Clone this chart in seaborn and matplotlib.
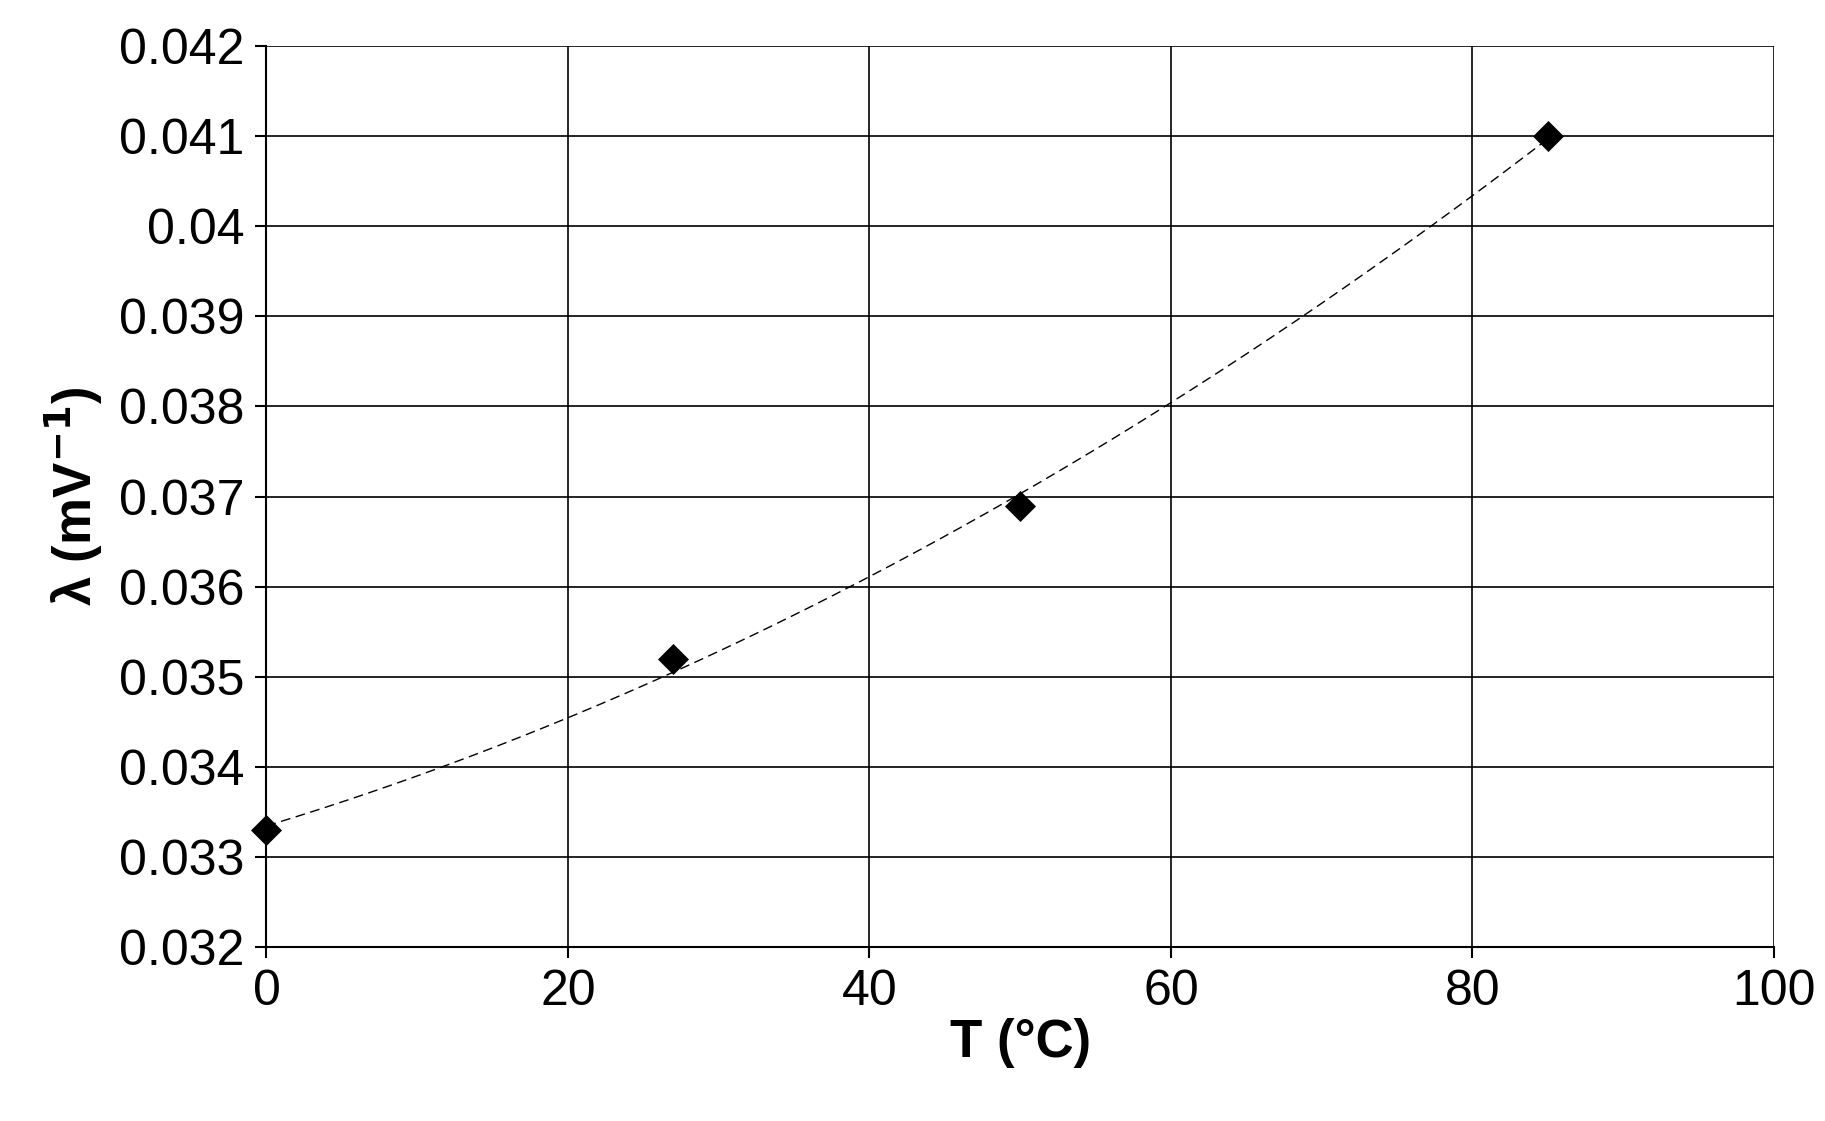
import numpy as np
import matplotlib
matplotlib.use("Agg")
import matplotlib.pyplot as plt
import seaborn as sns

T = [0, 27, 50, 85]
lam = [0.0333, 0.0352, 0.0369, 0.0410]
xticks = [0, 20, 40, 60, 80, 100]
yticks = [0.032, 0.033, 0.034, 0.035, 0.036, 0.037, 0.038, 0.039, 0.04, 0.041, 0.042]
ylabels = ["0.032", "0.033", "0.034", "0.035", "0.036", "0.037", "0.038", "0.039", "0.04", "0.041", "0.042"]

sns.set_theme(style="white")
plt.rcParams['font.family'] = ['Liberation Sans', 'DejaVu Sans']

fig = plt.figure(figsize=(18.25, 11.21), dpi=100)
ax = fig.add_axes([0.146, 0.155, 0.826, 0.804])

# polynomial (order 2) trendline fitted to the data
coef = np.polyfit(T, lam, 2)
xf = np.linspace(min(T), max(T), 200)
ax.plot(xf, np.polyval(coef, xf), ls=(0, (7, 4)), color='black', lw=1)
sns.scatterplot(x=T, y=lam, marker='D', s=250, color='black', ax=ax, zorder=5,
                linewidth=0, clip_on=False)

ax.set_xlim(0, 100)
ax.set_ylim(0.032, 0.042)
ax.set_xticks(xticks)
ax.set_yticks(yticks)
ax.set_yticklabels(ylabels)
ax.grid(True, color='black', lw=1.2)
for s in ax.spines.values():
    s.set_visible(False)
for side in ('left', 'bottom'):
    ax.spines[side].set_visible(True)
    ax.spines[side].set_color('black')
    ax.spines[side].set_linewidth(1.5)
ax.tick_params(axis='both', direction='out', length=8, width=1.5, color='black',
               labelsize=36, labelcolor='black', bottom=True, left=True, pad=8)
ax.set_xlabel('T (°C)', fontsize=38, fontweight='bold', labelpad=2, color='black')
ax.set_ylabel('λ (mV$^{\\mathbf{-1}}$)', fontsize=38, fontweight='bold', labelpad=10, color='black')

fig.savefig('out.png', dpi=100, facecolor='white')
